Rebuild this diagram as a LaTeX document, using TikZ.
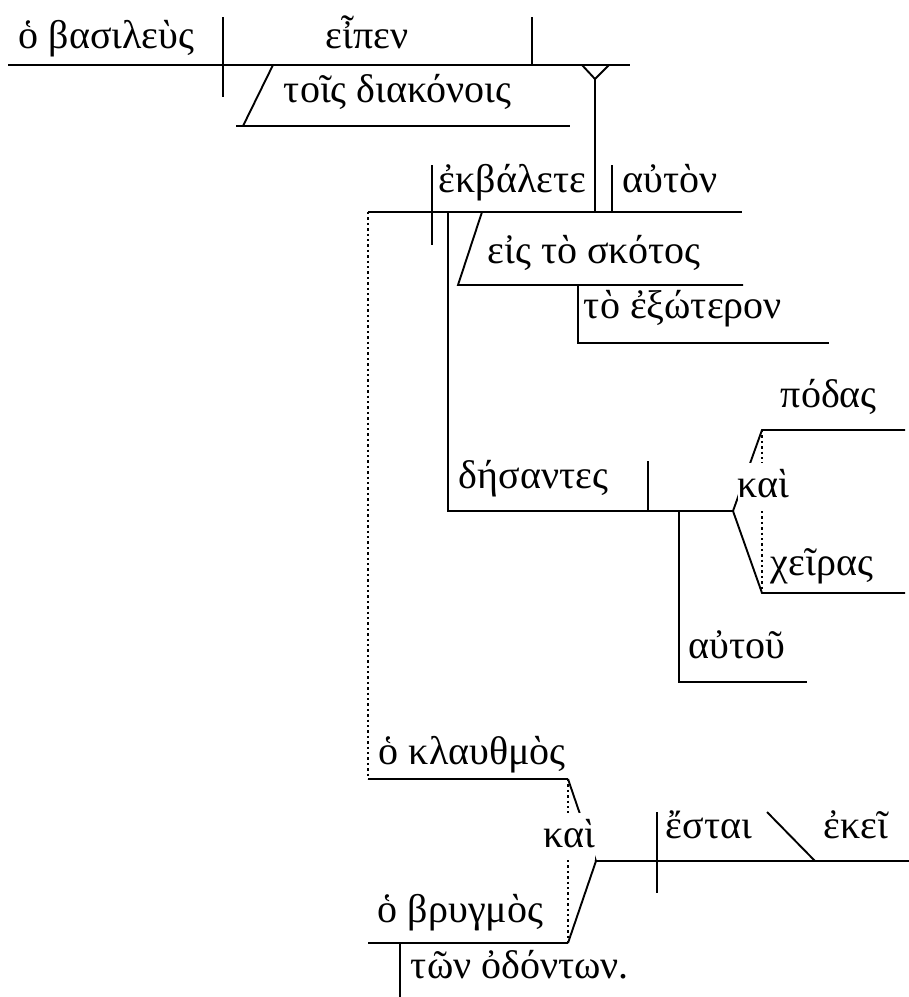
\documentclass[tikz,border=0pt]{standalone}
\usepackage{fontspec}
\setmainfont{Liberation Serif}
\begin{document}
\begin{tikzpicture}[x=1pt,y=-1pt,line width=1.9pt,
  word/.style={anchor=base west,inner sep=0pt,font=\fontsize{40}{48}\selectfont},
  conj/.style={word,fill=white,text height=34pt,text depth=13pt},
  dotline/.style={line width=2.8pt,dash pattern=on 2.4pt off 3pt}]
\useasboundingbox (0,0) rectangle (909,997);
% ---- clause 1 coordinates
\coordinate (l1a) at (8,65); \coordinate (l1b) at (630,65);
\coordinate (sv1t) at (223,17); \coordinate (sv1b) at (223,97);
\coordinate (vo1t) at (532,17); \coordinate (vo1b) at (532,65);
\coordinate (io1t) at (273,65); \coordinate (io1b) at (243,126);
\coordinate (io1l) at (236,126); \coordinate (io1r) at (570,126);
\coordinate (ya) at (582,65); \coordinate (yb) at (609,65);
\coordinate (yc) at (595,79); \coordinate (yd) at (595,212);
% ---- clause 2 coordinates
\coordinate (l2a) at (368,212); \coordinate (l2b) at (742,212);
\coordinate (sv2t) at (432,165); \coordinate (sv2b) at (432,245);
\coordinate (vo2t) at (612,165); \coordinate (vo2b) at (612,212);
\coordinate (pp1t) at (482,212); \coordinate (pp1b) at (458,285); \coordinate (pp1r) at (743,285);
\coordinate (adjt) at (578,285); \coordinate (adjb) at (578,343); \coordinate (adjr) at (829,343);
\coordinate (ptt) at (448,212); \coordinate (ptb) at (448,511); \coordinate (ptr) at (733,511);
\coordinate (vo3t) at (648,461); \coordinate (vo3b) at (648,511);
\coordinate (gnt) at (679,511); \coordinate (gnb) at (679,682); \coordinate (gnr) at (807,682);
\coordinate (fku) at (762,430); \coordinate (fkur) at (905,430);
\coordinate (fkd) at (762,593); \coordinate (fkdr) at (905,593);
% ---- clause 3 coordinates
\coordinate (cst) at (368,779); \coordinate (csr) at (568,779);
\coordinate (cbl) at (368,943); \coordinate (cbr) at (568,943);
\coordinate (mj) at (596,861); \coordinate (mr) at (909,861);
\coordinate (sv3t) at (657,812); \coordinate (sv3b) at (657,893);
\coordinate (pct) at (767,812); \coordinate (pcb) at (815,861);
\coordinate (gt) at (400,943); \coordinate (gb) at (400,997);
% ---- lines clause 1
\draw (l1a) -- (l1b);
\draw (sv1t) -- (sv1b);
\draw (vo1t) -- (vo1b);
\draw (io1t) -- (io1b);
\draw (io1l) -- (io1r);
\draw (ya) -- (yc) -- (yb);
\draw (yc) -- (yd);
% ---- lines clause 2
\draw (l2a) -- (l2b);
\draw (sv2t) -- (sv2b);
\draw (vo2t) -- (vo2b);
\draw (pp1t) -- (pp1b) -- (pp1r);
\draw (adjt) -- (adjb) -- (adjr);
\draw (ptt) -- (ptb) -- (ptr);
\draw (vo3t) -- (vo3b);
\draw (gnt) -- (gnb) -- (gnr);
\draw (ptr) -- (fku) -- (fkur);
\draw (ptr) -- (fkd) -- (fkdr);
\draw[dotline] (fku) -- (fkd);
% ---- lines clause 3
\draw[dotline] (l2a) -- (cst);
\draw (cst) -- (csr);
\draw (cbl) -- (cbr);
\draw (csr) -- (mj);
\draw (cbr) -- (mj) -- (mr);
\draw[dotline] (csr) -- (cbr);
\draw (sv3t) -- (sv3b);
\draw (pct) -- (pcb);
\draw (gt) -- (gb);
% ---- words
\node[word] (w1) at (18,48) {ὁ βασιλεὺς};
\node[word] (w2) at (325,48) {εἶπεν};
\node[word] (w3) at (283,102) {τοῖς διακόνοις};
\node[word] (w4) at (438,192) {ἐκβάλετε};
\node[word] (w5) at (622,192) {αὐτὸν};
\node[word] (w6) at (487,263) {εἰς τὸ σκότος};
\node[word] (w7) at (583,318) {τὸ ἐξώτερον};
\node[word] (w8) at (780,407) {πόδας};
\node[word] (w9) at (458,488) {δήσαντες};
\node[conj] (w10) at (737,497) {καὶ};
\node[word] (w11) at (770,575) {χεῖρας};
\node[word] (w12) at (688,658) {αὐτοῦ};
\node[word] (w13) at (378,764) {ὁ κλαυθμὸς};
\node[conj] (w14) at (543,847) {καὶ};
\node[word] (w15) at (377,922) {ὁ βρυγμὸς};
\node[word] (w16) at (410,978) {τῶν ὀδόντων.};
\node[word] (w17) at (665,838) {ἔσται};
\node[word] (w18) at (823,838) {ἐκεῖ};
\end{tikzpicture}
\end{document}
